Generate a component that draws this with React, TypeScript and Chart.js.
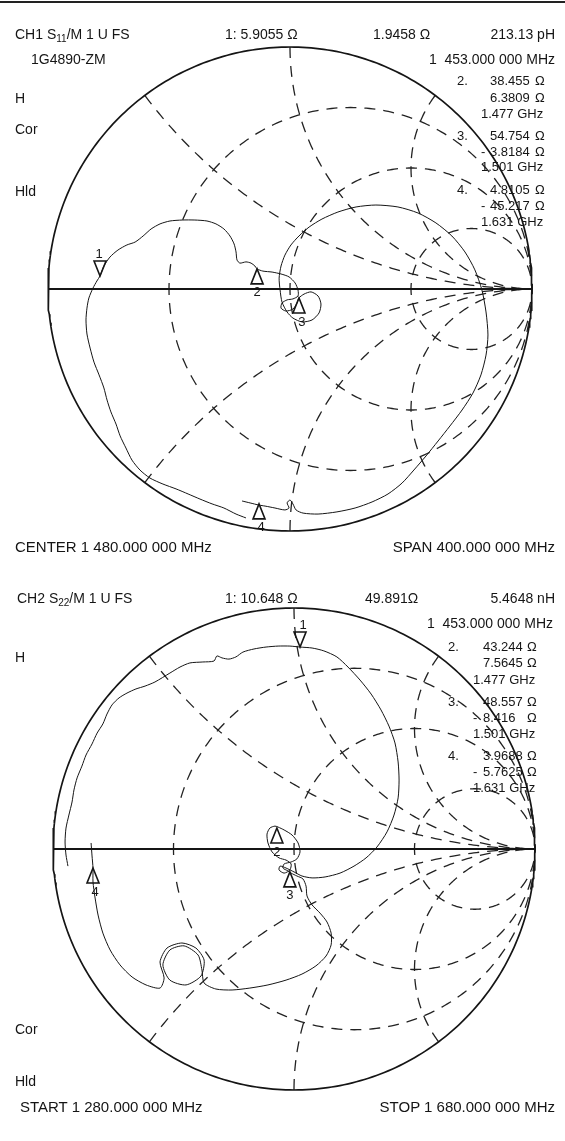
import React, { useEffect, useRef } from "react";
import { Chart, registerables } from "chart.js";

Chart.register(...registerables);

const W = 565;

// Smith chart grid: constant-resistance circles and constant-reactance arcs (normalised)
const RES_CIRCLES = [1 / 3, 1, 3];
const REACT_ARCS = [0.5, 1, 2, -0.5, -1, -2];

// CH1 S11 trace, reflection coefficient (real, imaginary), 1280 -> 1680 MHz
const CH1_RE = [
  -0.182, -0.223, -0.273, -0.322, -0.372, -0.421, -0.471, -0.525, -0.579, -0.62,
  -0.653, -0.678, -0.702, -0.719, -0.74, -0.756, -0.769, -0.789, -0.81, -0.826,
  -0.839, -0.843, -0.839, -0.831, -0.814, -0.798, -0.785, -0.769, -0.744, -0.711,
  -0.674, -0.64, -0.607, -0.574, -0.537, -0.496, -0.446, -0.393, -0.343, -0.306,
  -0.273, -0.248, -0.231, -0.223, -0.219, -0.207, -0.182, -0.161, -0.145, -0.136,
  -0.112, -0.074, -0.037, -0.004, 0.021, 0.033, 0.033, 0.012, -0.012, -0.033,
  -0.037, -0.017, 0.012, 0.029, 0.037, 0.058, 0.087, 0.116, 0.128, 0.12,
  0.091, 0.05, 0.012, -0.012, -0.033, -0.041, -0.045, -0.037, -0.021, 0.004,
  0.037, 0.079, 0.132, 0.198, 0.273, 0.355, 0.446, 0.529, 0.603, 0.669,
  0.723, 0.764, 0.793, 0.81, 0.818, 0.81, 0.789, 0.756, 0.711, 0.661,
  0.612, 0.562, 0.512, 0.463, 0.405, 0.339, 0.269, 0.194, 0.116, 0.054,
  0.025, 0.012, 0.0, -0.012, -0.004, -0.021, -0.062, -0.103, -0.128, -0.165,
  -0.198,
];
const CH1_IM = [
  -0.946, -0.93, -0.905, -0.888, -0.868, -0.847, -0.826, -0.806, -0.781, -0.748,
  -0.707, -0.657, -0.607, -0.558, -0.508, -0.459, -0.409, -0.355, -0.302, -0.244,
  -0.186, -0.128, -0.079, -0.037, 0.004, 0.033, 0.054, 0.095, 0.132, 0.161,
  0.182, 0.194, 0.219, 0.248, 0.269, 0.281, 0.285, 0.285, 0.281, 0.269,
  0.248, 0.219, 0.186, 0.153, 0.12, 0.107, 0.112, 0.107, 0.095, 0.083,
  0.074, 0.07, 0.062, 0.05, 0.025, -0.004, -0.029, -0.041, -0.045, -0.058,
  -0.079, -0.091, -0.083, -0.058, -0.037, -0.021, -0.012, -0.029, -0.062, -0.099,
  -0.128, -0.136, -0.12, -0.095, -0.054, -0.004, 0.045, 0.095, 0.14, 0.182,
  0.219, 0.256, 0.289, 0.318, 0.339, 0.347, 0.339, 0.314, 0.273, 0.219,
  0.153, 0.079, -0.004, -0.095, -0.19, -0.273, -0.355, -0.43, -0.5, -0.566,
  -0.628, -0.69, -0.748, -0.802, -0.847, -0.88, -0.905, -0.921, -0.93, -0.926,
  -0.913, -0.888, -0.872, -0.884, -0.905, -0.913, -0.905, -0.897, -0.893, -0.884,
  -0.876,
];
const CH1_MARK_RE = [-0.785, -0.136, 0.037, -0.128];
const CH1_MARK_IM = [0.054, 0.083, -0.037, -0.888];

// CH2 S22 trace, reflection coefficient (real, imaginary)
const CH2_RE = [
  -0.938, -0.946, -0.95, -0.946, -0.934, -0.921, -0.913, -0.9, -0.88, -0.863,
  -0.838, -0.817, -0.793, -0.776, -0.755, -0.726, -0.693, -0.656, -0.618, -0.577,
  -0.515, -0.473, -0.432, -0.378, -0.332, -0.32, -0.299, -0.27, -0.241, -0.212,
  -0.166, -0.116, -0.066, -0.017, 0.025, 0.075, 0.124, 0.178, 0.224, 0.274,
  0.32, 0.361, 0.394, 0.419, 0.432, 0.436, 0.432, 0.415, 0.386, 0.344,
  0.299, 0.249, 0.191, 0.129, 0.075, 0.033, 0.0, -0.033, -0.058, -0.062,
  -0.041, -0.017, -0.012, -0.033, -0.062, -0.091, -0.108, -0.112, -0.1, -0.079,
  -0.066, -0.041, -0.008, 0.017, 0.025, 0.012, -0.012, -0.041, -0.046, -0.025,
  -0.012, 0.012, 0.037, 0.05, 0.054, 0.075, 0.108, 0.137, 0.154, 0.154,
  0.133, 0.091, 0.033, -0.033, -0.108, -0.183, -0.257, -0.324, -0.373, -0.382,
  -0.398, -0.456, -0.515, -0.544, -0.515, -0.448, -0.386, -0.373, -0.407, -0.465,
  -0.527, -0.556, -0.539, -0.556, -0.614, -0.672, -0.722, -0.763, -0.793, -0.813,
  -0.826, -0.834, -0.834, -0.838, -0.842,
];
const CH2_IM = [
  -0.071, -0.025, 0.029, 0.087, 0.141, 0.195, 0.245, 0.295, 0.344, 0.39,
  0.436, 0.481, 0.519, 0.56, 0.598, 0.627, 0.647, 0.664, 0.676, 0.693,
  0.73, 0.755, 0.772, 0.776, 0.78, 0.801, 0.793, 0.788, 0.797, 0.817,
  0.83, 0.838, 0.842, 0.842, 0.838, 0.834, 0.822, 0.797, 0.755, 0.701,
  0.643, 0.577, 0.51, 0.44, 0.361, 0.286, 0.212, 0.141, 0.071, 0.008,
  -0.037, -0.071, -0.1, -0.116, -0.12, -0.112, -0.095, -0.079, -0.071, -0.087,
  -0.1, -0.087, -0.062, -0.046, -0.037, -0.012, 0.025, 0.062, 0.087, 0.095,
  0.091, 0.079, 0.058, 0.025, -0.012, -0.041, -0.054, -0.062, -0.079, -0.091,
  -0.1, -0.112, -0.124, -0.154, -0.195, -0.232, -0.266, -0.303, -0.349, -0.398,
  -0.444, -0.485, -0.519, -0.544, -0.564, -0.577, -0.585, -0.581, -0.556, -0.502,
  -0.44, -0.402, -0.419, -0.481, -0.544, -0.564, -0.527, -0.461, -0.411, -0.39,
  -0.411, -0.469, -0.535, -0.577, -0.564, -0.531, -0.481, -0.419, -0.349, -0.274,
  -0.199, -0.137, -0.079, -0.029, 0.025,
];
const CH2_MARK_RE = [0.025, -0.071, -0.017, -0.834];
const CH2_MARK_IM = [0.838, 0.087, -0.095, -0.079];

const MARK_LABELS = ["1", "2", "3", "4"];
const MARK_DOWN = [true, false, false, false];

const FONT = '"Liberation Sans", Arial, Helvetica, sans-serif';
const INK = "#151515";

type Pt = { x: number; y: number };

function gridDatasets() {
  const sets: any[] = [];
  const dashed = {
    showLine: true,
    pointRadius: 0,
    borderColor: "#222",
    borderWidth: 1.3,
    borderDash: [11, 8],
    borderDashOffset: 5,
    tension: 0,
    fill: false,
  };
  RES_CIRCLES.forEach((r) => {
    const c = r / (1 + r);
    const rad = 1 / (1 + r);
    const up: Pt[] = [];
    const dn: Pt[] = [];
    for (let i = 0; i <= 180; i++) {
      const a = Math.PI - (i * Math.PI) / 180;
      up.push({ x: c + rad * Math.cos(a), y: rad * Math.sin(a) });
      dn.push({ x: c + rad * Math.cos(a), y: -rad * Math.sin(a) });
    }
    sets.push({ ...dashed, data: up });
    sets.push({ ...dashed, data: dn });
  });
  REACT_ARCS.forEach((xv) => {
    const ax = Math.abs(xv);
    const s = Math.sign(xv);
    const rho = 1 / ax;
    const g0x = (ax * ax - 1) / (ax * ax + 1);
    const g0y = (2 * ax) / (ax * ax + 1);
    let p0 = Math.atan2(g0y - rho, g0x - 1);
    if (p0 < Math.PI / 2) p0 += 2 * Math.PI;
    const p1 = (3 * Math.PI) / 2;
    const pts: Pt[] = [];
    const n = 160;
    for (let i = 0; i <= n; i++) {
      const p = p0 + ((p1 - p0) * i) / n;
      pts.push({ x: 1 + rho * Math.cos(p), y: s * (rho + rho * Math.sin(p)) });
    }
    sets.push({ ...dashed, borderDashOffset: 0, data: pts });
  });
  return sets;
}

function outerCircle(): Pt[] {
  const pts: Pt[] = [];
  for (let i = 0; i <= 360; i++) {
    const a = (i * Math.PI) / 180;
    pts.push({ x: Math.cos(a), y: Math.sin(a) });
  }
  return pts;
}

const markerPlugin = {
  id: "smithMarkers",
  afterDatasetsDraw(chart: any, _args: any, opts: any) {
    const { ctx } = chart;
    const xs = chart.scales.x;
    const ys = chart.scales.y;
    opts.re.forEach((re: number, i: number) => {
      const px = xs.getPixelForValue(re);
      const py = ys.getPixelForValue(opts.im[i]);
      const down = MARK_DOWN[i];
      const h = 15;
      const w = 6;
      const by = down ? py - h : py + h;
      ctx.save();
      ctx.strokeStyle = INK;
      ctx.lineWidth = 1.6;
      ctx.lineJoin = "miter";
      ctx.beginPath();
      ctx.moveTo(px, py);
      ctx.lineTo(px - w, by);
      ctx.lineTo(px + w, by);
      ctx.closePath();
      ctx.stroke();
      ctx.fillStyle = INK;
      ctx.font = `13px ${FONT}`;
      ctx.textAlign = "center";
      ctx.textBaseline = "middle";
      ctx.fillText(MARK_LABELS[i], px + (opts.dx[i] || 0), down ? by - 7 : by + 9);
      ctx.restore();
    });
  },
};

type SmithProps = {
  top: number;
  height: number;
  cx: number;
  cy: number;
  R: number;
  re: number[];
  im: number[];
  mRe: number[];
  mIm: number[];
  mDx: number[];
};

function Smith({ top, height, cx, cy, R, re, im, mRe, mIm, mDx }: SmithProps) {
  const ref = useRef<HTMLCanvasElement>(null);
  useEffect(() => {
    const trace = re.map((v, i) => ({ x: v, y: im[i] }));
    const chart = new Chart(ref.current as HTMLCanvasElement, {
      type: "scatter",
      data: {
        datasets: [
          {
            data: trace,
            showLine: true,
            pointRadius: 0,
            borderColor: INK,
            borderWidth: 1,
            tension: 0.25,
            fill: false,
          } as any,
          {
            data: outerCircle(),
            showLine: true,
            pointRadius: 0,
            borderColor: INK,
            borderWidth: 1.7,
            tension: 0,
          } as any,
          {
            data: [
              { x: -1, y: 0 },
              { x: 1, y: 0 },
            ],
            showLine: true,
            pointRadius: 0,
            borderColor: INK,
            borderWidth: 2,
            tension: 0,
          } as any,
          ...gridDatasets(),
        ],
      },
      options: {
        animation: false,
        responsive: false,
        devicePixelRatio: 1,
        events: [],
        layout: { padding: 0 },
        scales: {
          x: { type: "linear", display: false, min: -cx / R, max: (W - cx) / R },
          y: { type: "linear", display: false, min: -(height - cy) / R, max: cy / R },
        },
        plugins: {
          legend: { display: false },
          tooltip: { enabled: false },
          smithMarkers: { re: mRe, im: mIm, dx: mDx },
        } as any,
      },
      plugins: [markerPlugin as any],
    });
    return () => chart.destroy();
  }, []);
  return (
    <canvas
      ref={ref}
      width={W}
      height={height}
      style={{ position: "absolute", left: 0, top, width: W, height }}
    />
  );
}

function T({
  x,
  y,
  right,
  size = 14,
  children,
}: {
  x: number;
  y: number;
  right?: boolean;
  size?: number;
  children: React.ReactNode;
}) {
  const style: React.CSSProperties = {
    position: "absolute",
    top: y - size * 0.58,
    fontSize: size,
    lineHeight: `${Math.round(size * 1.15)}px`,
    whiteSpace: "pre",
    color: INK,
  };
  if (right) style.right = W - x;
  else style.left = x;
  return <div style={style}>{children}</div>;
}

const sub: React.CSSProperties = { fontSize: 10, verticalAlign: "baseline", position: "relative", top: 3 };

function Readout({
  xn,
  xnum,
  xo,
  xd,
  ys,
  rows,
}: {
  xn: number;
  xnum: number;
  xo: number;
  xd: number;
  ys: number[];
  rows: [string, string, string, string, string][];
}) {
  const out: React.ReactNode[] = [];
  const fs = 13;
  rows.forEach((r, i) => {
    const [label, v1, v2neg, v2, f] = r;
    const yA = ys[i * 3];
    const yB = ys[i * 3 + 1];
    const yC = ys[i * 3 + 2];
    out.push(<T key={`l${i}`} x={xn} y={yA} size={fs}>{label}</T>);
    out.push(<T key={`a${i}`} x={xnum} y={yA} size={fs}>{v1}</T>);
    out.push(<T key={`ao${i}`} x={xo} y={yA} size={fs}>Ω</T>);
    if (v2neg) out.push(<T key={`n${i}`} x={xd} y={yB} size={fs}>{v2neg}</T>);
    out.push(<T key={`b${i}`} x={xnum} y={yB} size={fs}>{v2}</T>);
    out.push(<T key={`bo${i}`} x={xo} y={yB} size={fs}>Ω</T>);
    out.push(<T key={`f${i}`} x={xd} y={yC} size={fs}>{f}</T>);
  });
  return <>{out}</>;
}

export default function App() {
  return (
    <div
      style={{
        position: "absolute",
        left: 0,
        top: 0,
        width: W,
        height: 1141,
        background: "#fff",
        overflow: "hidden",
        fontFamily: FONT,
      }}
    >
      <div style={{ position: "absolute", left: 0, top: 1, width: W, height: 2, background: "#222" }} />
      <Smith
        top={0}
        height={570}
        cx={290}
        cy={289}
        R={242}
        re={CH1_RE}
        im={CH1_IM}
        mRe={CH1_MARK_RE}
        mIm={CH1_MARK_IM}
        mDx={[-1, 0, 3, 2]}
      />
      <Smith
        top={570}
        height={571}
        cx={294}
        cy={279}
        R={241}
        re={CH2_RE}
        im={CH2_IM}
        mRe={CH2_MARK_RE}
        mIm={CH2_MARK_IM}
        mDx={[3, 0, 0, 2]}
      />

      {/* CH1 annotations */}
      <T x={15} y={34}>
        CH1 S<sub style={sub}>11</sub>/M 1 U FS
      </T>
      <T x={225} y={34}>1: 5.9055 Ω</T>
      <T x={373} y={34}>1.9458 Ω</T>
      <T x={555} y={34} right>
        213.13 pH
      </T>
      <T x={31} y={59}>1G4890-ZM</T>
      <T x={555} y={59} right>
        {"1  453.000 000 MHz"}
      </T>
      <T x={15} y={98}>H</T>
      <T x={15} y={129}>Cor</T>
      <T x={15} y={191}>Hld</T>
      <Readout
        xn={457}
        xnum={490}
        xo={535}
        xd={481}
        ys={[81, 98, 114, 136, 152, 167, 190, 206, 222]}
        rows={[
          ["2.", "38.455", "", "6.3809", "1.477 GHz"],
          ["3.", "54.754", "-", "3.8184", "1.501 GHz"],
          ["4.", "4.8105", "-", "45.217", "1.631 GHz"],
        ]}
      />
      <T x={15} y={547} size={15}>
        CENTER 1 480.000 000 MHz
      </T>
      <T x={555} y={547} right size={15}>
        SPAN 400.000 000 MHz
      </T>

      {/* CH2 annotations */}
      <T x={17} y={598}>
        CH2 S<sub style={sub}>22</sub>/M 1 U FS
      </T>
      <T x={225} y={598}>1: 10.648 Ω</T>
      <T x={365} y={598}>49.891Ω</T>
      <T x={555} y={598} right>
        5.4648 nH
      </T>
      <T x={553} y={623} right>
        {"1  453.000 000 MHz"}
      </T>
      <T x={15} y={657}>H</T>
      <T x={15} y={1029}>Cor</T>
      <T x={15} y={1081}>Hld</T>
      <Readout
        xn={448}
        xnum={483}
        xo={527}
        xd={473}
        ys={[647, 663, 680, 702, 718, 734, 756, 772, 788]}
        rows={[
          ["2.", "43.244", "", "7.5645", "1.477 GHz"],
          ["3.", "48.557", "-", "8.416", "1.501 GHz"],
          ["4.", "3.9688", "-", "5.7625", "1.631 GHz"],
        ]}
      />
      <T x={20} y={1107} size={15}>
        START 1 280.000 000 MHz
      </T>
      <T x={555} y={1107} right size={15}>
        STOP 1 680.000 000 MHz
      </T>
    </div>
  );
}
